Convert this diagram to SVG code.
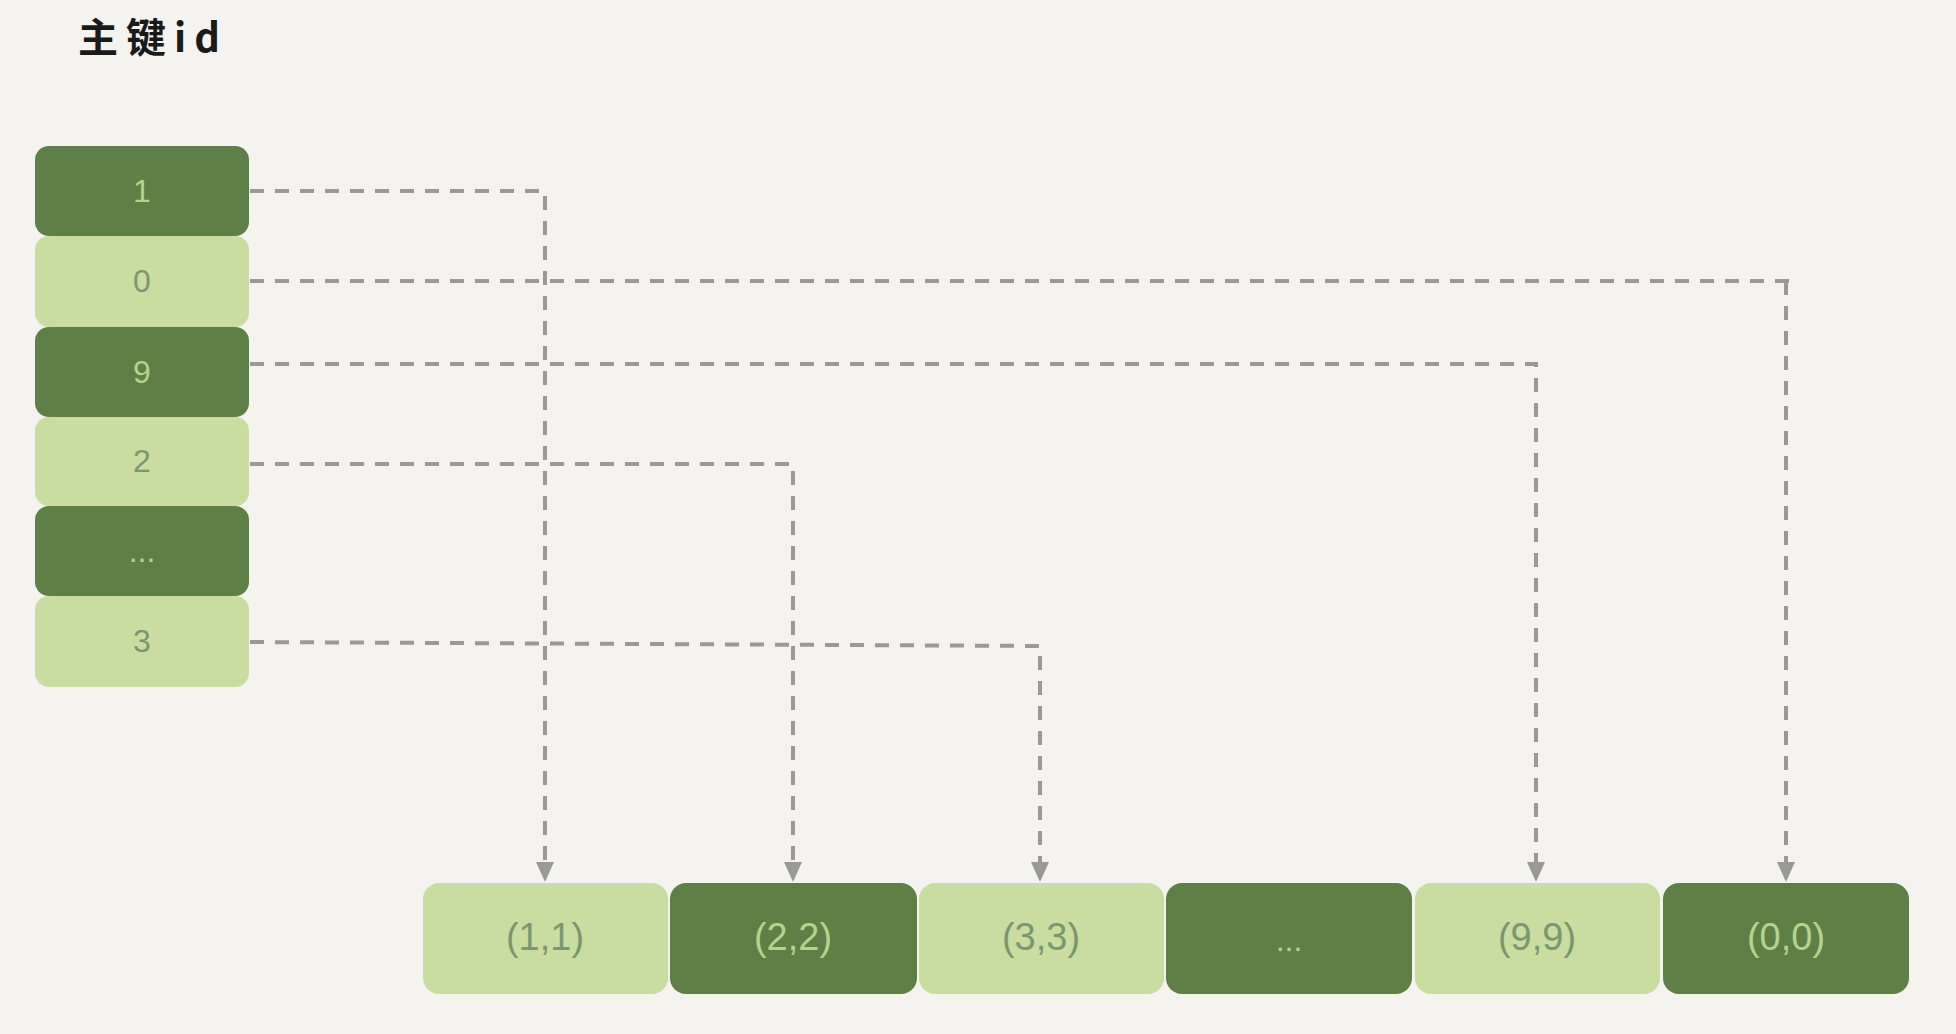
<svg xmlns="http://www.w3.org/2000/svg" width="1956" height="1034" viewBox="0 0 1956 1034">
<style>
.dark{fill:#5e7f46}
.light{fill:#c9dda0}
.tl{font-family:"Liberation Sans","Noto Sans",sans-serif;font-size:32px;text-anchor:middle;dominant-baseline:central}
.tb{font-size:38px}
.td{fill:#b3d38e}
.tg{fill:#7a9770}
.c{fill:none;stroke:#999999;stroke-width:4;stroke-dasharray:14 11}
</style>
<rect width="1956" height="1034" fill="#f4f3ef"/>
<text x="78" y="52" font-family="Noto Sans CJK SC,sans-serif" font-size="40" font-weight="bold" letter-spacing="8" fill="#1a1a1a">主键id</text>

<g id="connectors">
<path class="c" d="M250 191 H545 V864"/>
<path class="c" d="M250 281 H1800 M1786 281 V864"/>
<path class="c" d="M250 364 H1536 V864"/>
<path class="c" d="M250 464 H793 V864"/>
<path class="c" d="M250 642 L1040 646 V864"/>
<g fill="#999999">
<path d="M536 862 L554 862 L545 882 Z"/>
<path d="M784 862 L802 862 L793 882 Z"/>
<path d="M1031 862 L1049 862 L1040 882 Z"/>
<path d="M1527 862 L1545 862 L1536 882 Z"/>
<path d="M1777 862 L1795 862 L1786 882 Z"/>
</g>
</g>

<g id="k1"><rect class="dark" x="35" y="146" width="214" height="90" rx="14"/><text class="tl td" x="142" y="191">1</text></g>
<g id="k0"><rect class="light" x="35" y="236" width="214" height="91" rx="14"/><text class="tl tg" x="142" y="281">0</text></g>
<g id="k9"><rect class="dark" x="35" y="327" width="214" height="90" rx="14"/><text class="tl td" x="142" y="372">9</text></g>
<g id="k2"><rect class="light" x="35" y="417" width="214" height="89" rx="14"/><text class="tl tg" x="142" y="461">2</text></g>
<g id="kd"><rect class="dark" x="35" y="506" width="214" height="90" rx="14"/><text class="tl td" x="142" y="551">...</text></g>
<g id="k3"><rect class="light" x="35" y="596" width="214" height="91" rx="14"/><text class="tl tg" x="142" y="641">3</text></g>

<g id="r11"><rect class="light" x="423" y="883" width="245" height="111" rx="16"/><text class="tl tb tg" x="545" y="937">(1,1)</text></g>
<g id="r22"><rect class="dark" x="670" y="883" width="247" height="111" rx="16"/><text class="tl tb td" x="793" y="937">(2,2)</text></g>
<g id="r33"><rect class="light" x="919" y="883" width="245" height="111" rx="16"/><text class="tl tb tg" x="1041" y="937">(3,3)</text></g>
<g id="rd"><rect class="dark" x="1166" y="883" width="246" height="111" rx="16"/><text class="tl td" x="1289" y="940">...</text></g>
<g id="r99"><rect class="light" x="1415" y="883" width="245" height="111" rx="16"/><text class="tl tb tg" x="1537" y="937">(9,9)</text></g>
<g id="r00"><rect class="dark" x="1663" y="883" width="246" height="111" rx="16"/><text class="tl tb td" x="1786" y="937">(0,0)</text></g>
</svg>
